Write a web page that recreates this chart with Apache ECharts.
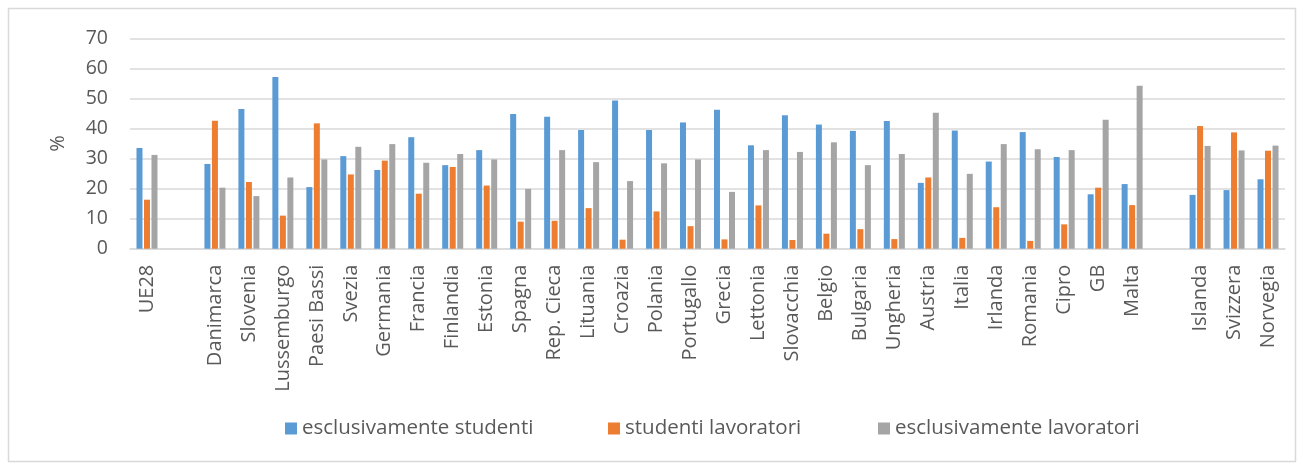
<!DOCTYPE html>
<html>
<head>
<meta charset="utf-8">
<title>Studenti e lavoratori</title>
<script src="https://cdn.jsdelivr.net/npm/echarts@6/dist/echarts.min.js"></script>
<style>
  html, body { margin: 0; padding: 0; background: #ffffff; }
  #chart { width: 1303px; height: 467px; }
</style>
</head>
<body>
<div id="chart"></div>
<script>
// Paesi (le voci vuote separano UE28 e i paesi extra-UE)
const categories = ['UE28', '', 'Danimarca', 'Slovenia', 'Lussemburgo', 'Paesi Bassi', 'Svezia',
  'Germania', 'Francia', 'Finlandia', 'Estonia', 'Spagna', 'Rep. Cieca', 'Lituania', 'Croazia',
  'Polania', 'Portugallo', 'Grecia', 'Lettonia', 'Slovacchia', 'Belgio', 'Bulgaria', 'Ungheria',
  'Austria', 'Italia', 'Irlanda', 'Romania', 'Cipro', 'GB', 'Malta', '', 'Islanda', 'Svizzera', 'Norvegia'];

const soloStudenti = [33.5, null, 28.2, 46.5, 57.1, 20.5, 30.8, 26.2, 37.1, 27.8, 32.8, 44.8, 43.9,
  39.5, 49.3, 39.5, 42.0, 46.2, 34.4, 44.4, 41.3, 39.2, 42.5, 21.9, 39.3, 29.0, 38.8, 30.5, 18.1,
  21.5, null, 17.9, 19.5, 23.1];

const studentiLavoratori = [16.3, null, 42.6, 22.2, 11.0, 41.7, 24.7, 29.3, 18.3, 27.2, 21.0, 9.0,
  9.3, 13.5, 3.0, 12.4, 7.5, 3.1, 14.4, 2.9, 5.0, 6.5, 3.2, 23.7, 3.6, 13.8, 2.6, 8.1, 20.3, 14.5,
  null, 40.8, 38.7, 32.6];

const soloLavoratori = [31.2, null, 20.3, 17.5, 23.7, 29.7, 33.9, 34.8, 28.6, 31.5, 29.7, 19.9, 32.8,
  28.8, 22.5, 28.4, 29.7, 18.9, 32.8, 32.2, 35.4, 27.8, 31.5, 45.2, 24.9, 34.8, 33.1, 32.8, 42.9,
  54.2, null, 34.2, 32.7, 34.3];

const seriesNames = ['esclusivamente studenti', 'studenti lavoratori', 'esclusivamente lavoratori'];
const seriesColors = ['#5b9bd5', '#ed7d31', '#a5a5a5'];

const textColor = '#595959';
const gridColor = '#d9d9d9';
const fontFamily = '"Open Sans", "DejaVu Sans", sans-serif';

// left edge of each legend entry
const legendLefts = [280, 603, 873];

const chart = echarts.init(document.getElementById('chart'), null, { renderer: 'canvas' });

function barSeries(i, values) {
  return {
    name: seriesNames[i],
    type: 'bar',
    data: values,
    barWidth: 6,
    barGap: '25%',
    itemStyle: { color: seriesColors[i] },
    animation: false
  };
}

function legendEntry(i) {
  return {
    data: [seriesNames[i]],
    left: legendLefts[i],
    top: 413,
    icon: 'rect',
    itemWidth: 12,
    itemHeight: 12,
    textStyle: { color: textColor, fontSize: 20.5, fontFamily: fontFamily }
  };
}

chart.setOption({
  animation: false,
  textStyle: { fontFamily: fontFamily },
  graphic: [{
    type: 'rect',
    shape: { x: 8.5, y: 8.5, width: 1287, height: 453 },
    style: { fill: 'none', stroke: gridColor, lineWidth: 1.5 },
    silent: true
  }],
  grid: { left: 130, right: 18, top: 38.3, bottom: 218.3 },
  legend: [legendEntry(0), legendEntry(1), legendEntry(2)],
  xAxis: {
    type: 'category',
    data: categories,
    axisTick: { show: false },
    axisLine: { lineStyle: { color: gridColor, width: 1.5 } },
    axisLabel: {
      rotate: 90,
      interval: 0,
      margin: 16,
      color: textColor,
      fontSize: 20,
      fontFamily: fontFamily
    }
  },
  yAxis: {
    type: 'value',
    min: 0,
    max: 70,
    interval: 10,
    name: '%',
    nameLocation: 'middle',
    nameGap: 62,
    nameTextStyle: { color: textColor, fontSize: 20, fontFamily: fontFamily },
    axisLine: { show: false },
    axisTick: { show: false },
    axisLabel: { color: textColor, fontSize: 19.5, margin: 22, fontFamily: fontFamily },
    splitLine: { lineStyle: { color: gridColor, width: 1.5 } }
  },
  series: [
    barSeries(0, soloStudenti),
    barSeries(1, studentiLavoratori),
    barSeries(2, soloLavoratori)
  ]
});
</script>
</body>
</html>
